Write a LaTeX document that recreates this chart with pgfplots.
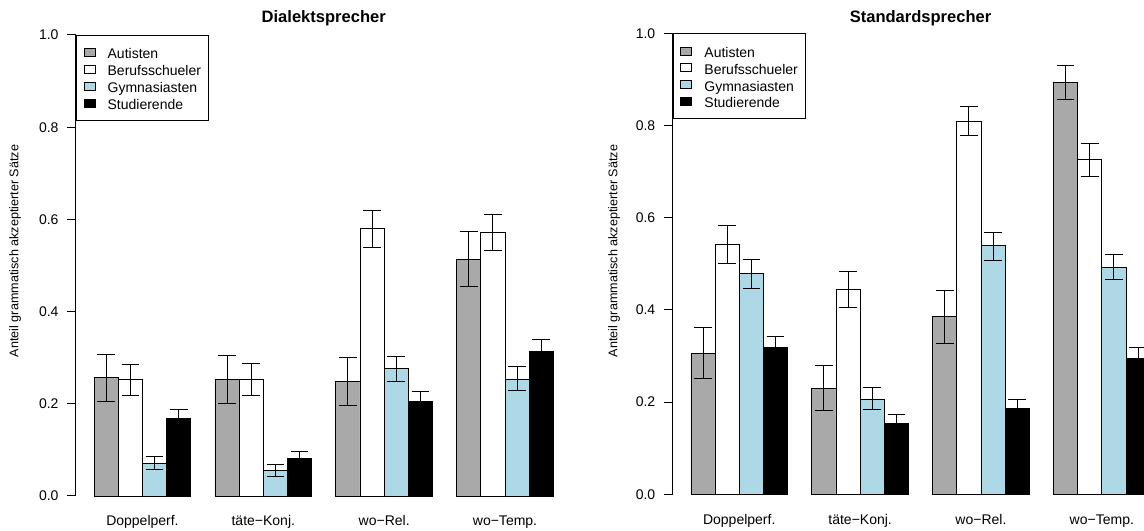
\documentclass[border=0pt]{standalone}
\usepackage{fontspec}
\setmainfont{Liberation Sans}
\usepackage{pgfplots}
\usepackage{pgfplotstable}
\pgfplotsset{compat=1.18}
\definecolor{autgray}{HTML}{A9A9A9}
\definecolor{gymblue}{HTML}{ADD8E6}

% left panel: Dialektsprecher
\pgfplotstableread{
x y ep em
1.5 0.257 0.051 0.052
6.5 0.253 0.051 0.052
11.5 0.249 0.052 0.052
16.5 0.513 0.060 0.059
}\dAut
\pgfplotstableread{
x y ep em
2.5 0.252 0.034 0.033
7.5 0.253 0.034 0.035
12.5 0.580 0.040 0.040
17.5 0.571 0.039 0.039
}\dBer
\pgfplotstableread{
x y ep em
3.5 0.071 0.014 0.014
8.5 0.056 0.012 0.014
13.5 0.277 0.026 0.028
18.5 0.254 0.027 0.026
}\dGym
\pgfplotstableread{
x y ep em
4.5 0.168 0.019 0.019
9.5 0.081 0.015 0.015
14.5 0.205 0.021 0.021
19.5 0.314 0.025 0.025
}\dStu
% right panel: Standardsprecher
\pgfplotstableread{
x y ep em
1.5 0.306 0.055 0.054
6.5 0.230 0.050 0.049
11.5 0.385 0.057 0.058
16.5 0.893 0.037 0.036
}\sAut
\pgfplotstableread{
x y ep em
2.5 0.542 0.041 0.042
7.5 0.445 0.039 0.040
12.5 0.810 0.031 0.031
17.5 0.727 0.034 0.037
}\sBer
\pgfplotstableread{
x y ep em
3.5 0.479 0.031 0.032
8.5 0.207 0.024 0.024
13.5 0.539 0.029 0.031
18.5 0.493 0.028 0.027
}\sGym
\pgfplotstableread{
x y ep em
4.5 0.318 0.025 0.025
9.5 0.154 0.019 0.019
14.5 0.186 0.020 0.020
19.5 0.294 0.025 0.025
}\sStu

\pgfplotsset{
  panel/.style={
    scale only axis, width=372pt, height=345.75pt,
    xmin=0.24, xmax=20.76, ymin=0, ymax=1,
    clip=false,
    axis y line*=left, axis x line*=bottom,
    x axis line style={draw=none},
    y axis line style={line width=0.75pt},
    xtick={3,8,13,18},
    xticklabels={Doppelperf.,täte−Konj.,wo−Rel.,wo−Temp.},
    xtick style={draw=none},
    xtick align=inside,
    xticklabel style={anchor=base, yshift=-22.5pt, font=\fontsize{10.5}{12}\selectfont},
    ytick={0,0.2,0.4,0.6,0.8,1.0},
    yticklabels={0.0,0.2,0.4,0.6,0.8,1.0},
    ytick align=outside,
    major tick length=6.75pt,
    ytick style={line width=0.75pt, black},
    yticklabel style={anchor=east, inner sep=0pt, xshift=-6pt, font=\fontsize{10.5}{12}\selectfont},
    ylabel={Anteil grammatisch akzeptierter Sätze},
    ylabel style={font=\fontsize{9.45}{11}\selectfont, anchor=center},
    title style={font=\fontsize{12.4}{14}\selectfont\bfseries, at={(axis description cs:0.5,1)}, anchor=base},
    legend style={at={(axis description cs:0,1)}, anchor=north west, draw=black, line width=0.75pt,
      inner xsep=5.5pt, inner ysep=6.5pt, row sep=0pt, column sep=9.2pt,
      font=\fontsize{10.5}{12}\selectfont,
      nodes={inner xsep=0pt, inner ysep=0pt, text height=11pt, text depth=1.7pt}},
    legend cell align=left,
    legend image code/.code={\draw[#1,line width=0.6pt] (0pt,-3pt) rectangle (8.25pt,3pt);},
    bar/.style={ybar, bar width=1, bar shift=0pt, draw=black, line width=0.6pt,
      error bars/y dir=both, error bars/y explicit,
      error bars/error bar style={line width=0.75pt, black},
      error bars/error mark options={rotate=90, mark size=6.6pt, line width=0.75pt, black}},
  }
}

\begin{document}
\begin{tikzpicture}
\path[use as bounding box] (0,0) rectangle (858pt,398.25pt);
\begin{axis}[panel, at={(56.8pt,26.25pt)}, anchor=south west,
  title={Dialektsprecher}, title style={yshift=3pt},
  ylabel style={at={(axis description cs:-0.1224,0.5315)}}]
\addplot[bar, fill=autgray] table[x=x,y=y,y error plus=ep,y error minus=em] {\dAut};
\addplot[bar, fill=white] table[x=x,y=y,y error plus=ep,y error minus=em] {\dBer};
\addplot[bar, fill=gymblue] table[x=x,y=y,y error plus=ep,y error minus=em] {\dGym};
\addplot[bar, fill=black] table[x=x,y=y,y error plus=ep,y error minus=em] {\dStu};
\legend{Autisten,Berufsschueler,Gymnasiasten,Studierende}
\end{axis}
\begin{axis}[panel, at={(504.4pt,27.5pt)}, anchor=south west,
  title={Standardsprecher}, title style={yshift=1.75pt},
  ylabel style={at={(axis description cs:-0.118,0.528)}}]
\addplot[bar, fill=autgray] table[x=x,y=y,y error plus=ep,y error minus=em] {\sAut};
\addplot[bar, fill=white] table[x=x,y=y,y error plus=ep,y error minus=em] {\sBer};
\addplot[bar, fill=gymblue] table[x=x,y=y,y error plus=ep,y error minus=em] {\sGym};
\addplot[bar, fill=black] table[x=x,y=y,y error plus=ep,y error minus=em] {\sStu};
\legend{Autisten,Berufsschueler,Gymnasiasten,Studierende}
\end{axis}
\end{tikzpicture}
\end{document}
